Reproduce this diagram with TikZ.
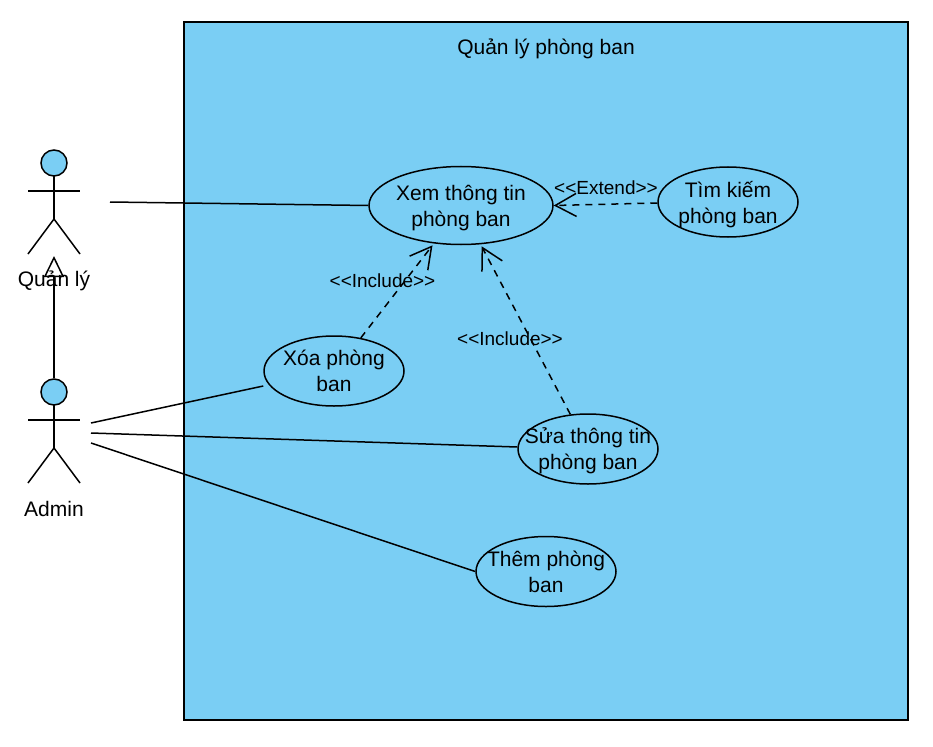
\documentclass[tikz,border=0pt]{standalone}
\usepackage{fontspec}
\setmainfont{Liberation Sans}
\usepackage{xcolor}
\usepackage{tikz}
\usetikzlibrary{arrows.meta,positioning,calc,shapes.geometric}
\definecolor{panelblue}{HTML}{7ACEF4}
\tikzset{
  usecase/.style={draw, ellipse, line width=1.5pt, align=center, inner xsep=-30pt, inner ysep=-20pt, minimum width=140pt, minimum height=70pt, text depth=-2pt, font=\fontsize{21}{26}\selectfont},
  stereo/.style={inner sep=0pt, font=\fontsize{19}{22}\selectfont},
  actorlabel/.style={inner sep=0pt, font=\fontsize{21}{24}\selectfont},
  actorhead/.style={draw, circle, line width=1.5pt, fill=panelblue, minimum size=26pt, inner sep=0pt},
  assoc/.style={line width=1.5pt},
  dep/.style={line width=1.5pt, dash pattern=on 7pt off 6pt, -{Straight Barb[length=21pt,width=23pt]}},
  inherit/.style={line width=1.5pt, -{Triangle[open,length=21pt,width=20pt]}}
}

\begin{document}
\begin{tikzpicture}[x=1pt,y=-1pt]
  \useasboundingbox (0,0) rectangle (933,746);

  % Boundary
  \node[draw, line width=1.5pt, fill=panelblue, minimum width=724pt, minimum height=698pt, inner sep=0pt] (panel) at (546,371) {};
  \node[actorlabel] (paneltitle) at (546,49) {Quản lý phòng ban};

  % Actors
  \foreach \name/\y/\label/\ly in {quanly/163/Quản lý/281,admin/392/Admin/509} {
    \begin{scope}[shift={(54,\y)}]
      \draw[assoc] (0,13) -- (0,56);
      \draw[assoc] (-26,28) -- (26,28);
      \draw[assoc] (-26,91) -- (0,56) -- (26,91);
    \end{scope}
    \node[actorhead] (\name) at (54,\y) {};
    \node[actorlabel] (\name label) at (54,\ly) {\label};
  }

  % Use cases
  \node[usecase, minimum width=184pt, minimum height=78pt] (xem) at (461,205.5) {Xem thông tin\\phòng ban};
  \node[usecase, text depth=0pt] (timkiem) at (728,202) {Tìm kiếm\\phòng ban};
  \node[usecase, text depth=-4pt] (xoa) at (334,371) {Xóa phòng\\ban};
  \node[usecase] (sua) at (588,449) {Sửa thông tin\\phòng ban};
  \node[usecase] (them) at (546,571.5) {Thêm phòng\\ban};

  % Free ends
  \coordinate (quanlyend) at (110,202);
  \coordinate (adminxoa) at (91,423);
  \coordinate (adminsua) at (91,433);
  \coordinate (adminthem) at (91,443);
  \coordinate (quanlyfoot) at (54,256);

  % Connectors
  \draw[inherit] (admin.north) -- (quanlyfoot);
  \draw[assoc] (quanlyend) -- (xem.west);
  \draw[assoc] (adminxoa) -- ([yshift=-15pt]xoa.west);
  \draw[assoc] (adminsua) -- ([yshift=2pt]sua.west);
  \draw[assoc] (adminthem) -- (them.west);
  \draw[dep] ([yshift=-1pt]timkiem.west) -- (xem.east);
  \draw[dep] (xoa.51) -- ([yshift=-2pt]xem.-127);
  \draw[dep] (sua.117) -- ([yshift=-2pt]xem.-62);

  \node[stereo] (extendlabel) at (606,188) {<{}<Extend>{}>};
  \node[stereo] (includexoa) at (382.5,281) {<{}<Include>{}>};
  \node[stereo] (includesua) at (510,339) {<{}<Include>{}>};
\end{tikzpicture}
\end{document}
